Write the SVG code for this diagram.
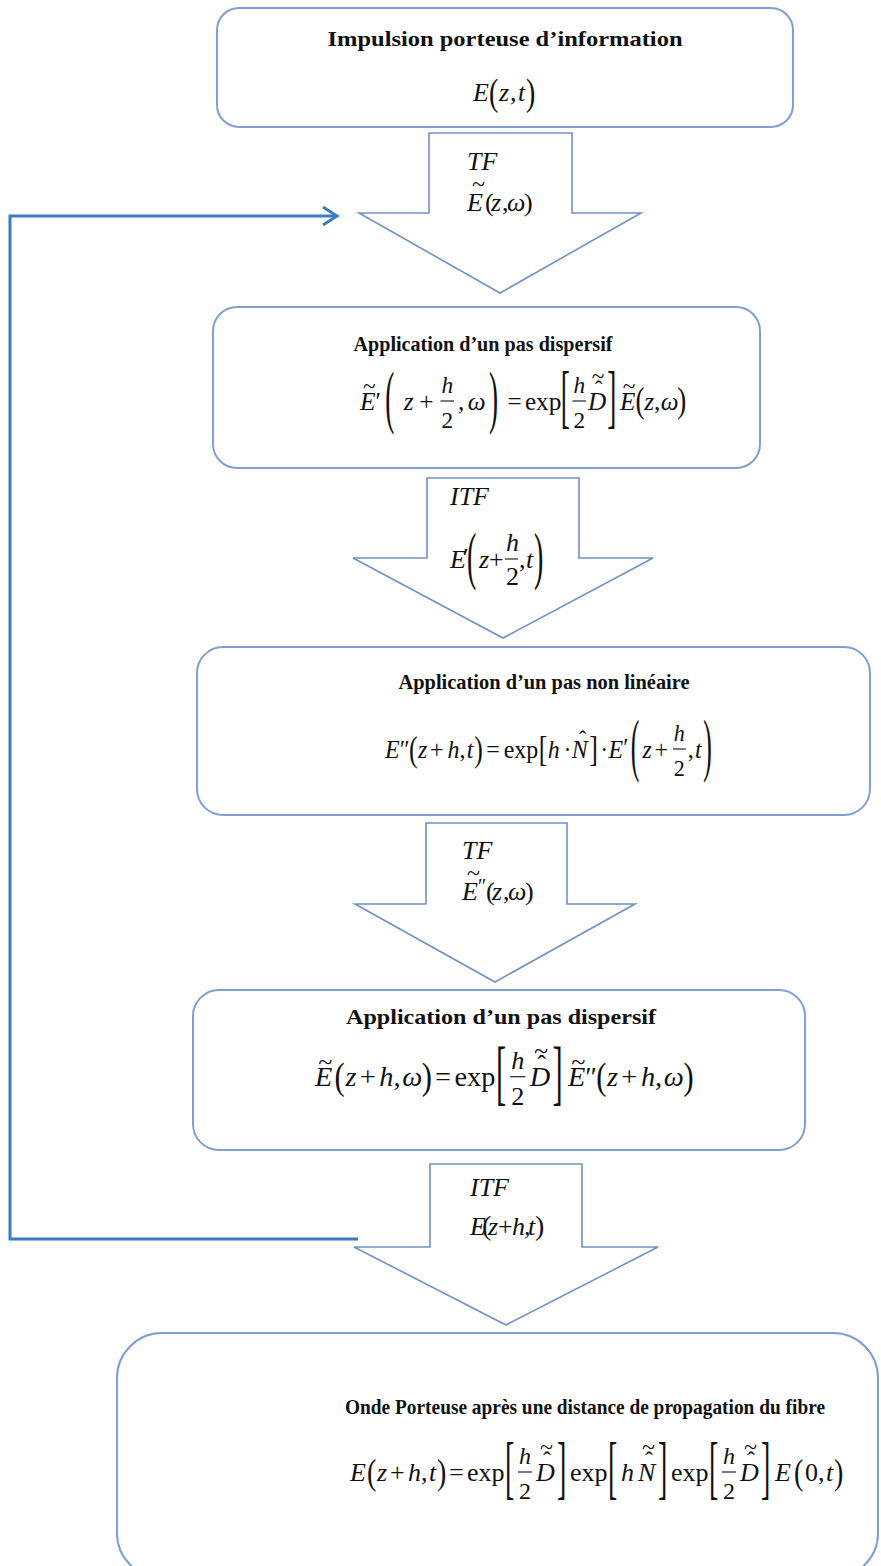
<svg xmlns="http://www.w3.org/2000/svg" width="881" height="1566" viewBox="0 0 881 1566">
<style>
.box{fill:#fff;stroke:#7f9fd3;stroke-width:2}
.arr{fill:#fff;stroke:#7191c6;stroke-width:1.6;stroke-linejoin:miter}
.fb{fill:none;stroke:#3b7cc4;stroke-width:3}
.t{font-family:"Liberation Serif",serif;font-weight:bold;font-size:21px;text-anchor:middle;fill:#111}
.m{font-family:"Liberation Serif",serif;font-size:26px;fill:#111}
.i{font-style:italic}
.f{font-size:24px}
.a{font-size:24px}
.fr{stroke:#111;stroke-width:1.1}
</style>
<defs>
<text id="lp" font-family="Liberation Serif" font-size="28" fill="#111">(</text>
<text id="rp" font-family="Liberation Serif" font-size="28" fill="#111">)</text>
<text id="lb" font-family="Liberation Serif" font-size="28" fill="#111">[</text>
<text id="rb" font-family="Liberation Serif" font-size="28" fill="#111">]</text>
</defs>
<rect width="881" height="1566" fill="#fff"/>

<g id="connectors">
<polyline class="fb" points="358,1239 10,1239 10,216 335,216"/>
<polyline class="fb" points="323,207 337,216 323,225" stroke-width="2.5"/>
</g>

<g id="box1">
<rect class="box" x="217" y="8" width="576" height="119" rx="22"/>
<text class="t" x="505" y="46" font-size="22" textLength="355" lengthAdjust="spacingAndGlyphs">Impulsion porteuse d’information</text>
<text class="m" y="101" font-size="28"><tspan class="i" x="473">E</tspan><tspan x="499" class="i">z</tspan><tspan x="510">,</tspan><tspan x="518" class="i">t</tspan></text>
<use href="#lp" transform="translate(489,105) scale(1,1.35)"/>
<use href="#rp" transform="translate(526,105) scale(1,1.35)"/>
</g>

<g id="arrow1">
<polygon class="arr" points="429,133 572,133 572,213 641,213 500,293 359,213 429,213"/>
<text class="m i" x="467" y="170" font-size="30">TF</text>
<text class="m" y="211" font-size="28"><tspan class="i" x="467">E</tspan><tspan x="472" y="192" font-size="24">~</tspan><tspan x="485" y="211" font-size="26">(</tspan><tspan class="i" x="491">z</tspan><tspan x="502" font-size="26">,</tspan><tspan class="i" x="507">ω</tspan><tspan x="524" font-size="26">)</tspan></text>
</g>

<g id="box2">
<rect class="box" x="213" y="307" width="547" height="161" rx="24"/>
<text class="t" x="483" y="351" textLength="259" lengthAdjust="spacingAndGlyphs">Application d’un pas dispersif</text>
<g transform="translate(360,410) scale(0.97,1)">
<text class="m" font-size="25"><tspan class="i" x="0" y="0">E</tspan><tspan class="a" x="3" y="-16">~</tspan><tspan x="16" y="0">′</tspan><tspan class="i" x="45">z</tspan><tspan x="61">+</tspan><tspan class="i f" x="84" y="-17">h</tspan><tspan class="f" x="84" y="18">2</tspan><tspan x="101" y="0">,</tspan><tspan class="i" x="111">ω</tspan><tspan x="152">=</tspan><tspan x="170">exp</tspan><tspan class="i f" x="220" y="-17">h</tspan><tspan class="f" x="220" y="18">2</tspan><tspan class="i" x="235" y="0">D</tspan><tspan class="a" x="242" y="-13" font-size="20">ˆ</tspan><tspan class="a" x="239" y="-26">~</tspan><tspan class="i" x="268" y="0">E</tspan><tspan class="a" x="271" y="-16">~</tspan><tspan x="293" y="0" class="i">z</tspan><tspan x="303">,</tspan><tspan class="i" x="310">ω</tspan></text>
<line class="fr" x1="83" y1="-9" x2="97" y2="-9"/>
<line class="fr" x1="219" y1="-9" x2="233" y2="-9"/>
<use href="#lp" transform="translate(26,10) scale(1,2.5)"/>
<use href="#rp" transform="translate(133,10) scale(1,2.5)"/>
<use href="#lb" transform="translate(207,10) scale(1,2.5)"/>
<use href="#rb" transform="translate(255,10) scale(1,2.5)"/>
<use href="#lp" transform="translate(284,2) scale(1,1.25)"/>
<use href="#rp" transform="translate(327,2) scale(1,1.25)"/>
</g>
</g>

<g id="arrow2">
<polygon class="arr" points="427,478 579,478 579,558 653,558 503,638 353,558 427,558"/>
<text class="m i" x="450" y="505" font-size="24">ITF</text>
<g transform="translate(450,568)">
<text class="m" font-size="24"><tspan class="i" x="0" y="0">E</tspan><tspan x="13" y="-2">′</tspan><tspan class="i" x="29" y="0">z</tspan><tspan x="39">+</tspan><tspan class="i" x="56" y="-17">h</tspan><tspan x="56" y="17">2</tspan><tspan x="69" y="0">,</tspan><tspan class="i" x="76">t</tspan></text>
<line class="fr" x1="55" y1="-9" x2="68" y2="-9"/>
<use href="#lp" transform="translate(17,9) scale(1,2.3)"/>
<use href="#rp" transform="translate(84,9) scale(1,2.3)"/>
</g>
</g>

<g id="box3">
<rect class="box" x="197" y="647" width="673" height="168" rx="26"/>
<text class="t" x="544" y="689" textLength="291" lengthAdjust="spacingAndGlyphs">Application d’un pas non linéaire</text>
<g transform="translate(385,758) scale(0.92,1)">
<text class="m"><tspan class="i" x="0" y="0">E</tspan><tspan x="16">″</tspan><tspan class="i" x="36">z</tspan><tspan x="49">+</tspan><tspan class="i" x="68">h</tspan><tspan x="81">,</tspan><tspan class="i" x="89">t</tspan><tspan x="110">=</tspan><tspan x="129">exp</tspan><tspan class="i" x="177">h</tspan><tspan x="194">·</tspan><tspan class="i" x="203">N</tspan><tspan class="a" x="211" y="-11" font-size="20">ˆ</tspan><tspan x="234" y="0">·</tspan><tspan class="i" x="243">E</tspan><tspan x="259" y="-2">′</tspan><tspan class="i" x="280" y="0">z</tspan><tspan x="293">+</tspan><tspan class="i f" x="314" y="-17">h</tspan><tspan class="f" x="314" y="18">2</tspan><tspan x="329" y="0">,</tspan><tspan class="i" x="337">t</tspan></text>
<line class="fr" x1="313" y1="-9" x2="327" y2="-9"/>
<use href="#lp" transform="translate(26,3) scale(1,1.3)"/>
<use href="#rp" transform="translate(97,3) scale(1,1.3)"/>
<use href="#lb" transform="translate(167,3) scale(1,1.3)"/>
<use href="#rb" transform="translate(222,3) scale(1,1.3)"/>
<use href="#lp" transform="translate(267,10) scale(1,2.5)"/>
<use href="#rp" transform="translate(346,10) scale(1,2.5)"/>
</g>
</g>

<g id="arrow3">
<polygon class="arr" points="426,823 567,823 567,904 635,904 495,982 355,904 426,904"/>
<text class="m i" x="462" y="859" font-size="30">TF</text>
<text class="m" y="900" font-size="28"><tspan class="i" x="462">E</tspan><tspan x="467" y="881" font-size="24">~</tspan><tspan x="478" y="893" font-size="20">″</tspan><tspan x="486" y="900" font-size="26">(</tspan><tspan class="i" x="492">z</tspan><tspan x="503" font-size="26">,</tspan><tspan class="i" x="508">ω</tspan><tspan x="525" font-size="26">)</tspan></text>
</g>

<g id="box4">
<rect class="box" x="193" y="990" width="612" height="160" rx="26"/>
<text class="t" x="501" y="1024" font-size="22" textLength="310" lengthAdjust="spacingAndGlyphs">Application d’un pas dispersif</text>
<g transform="translate(315,1086) scale(1.09,1.03)">
<text class="m"><tspan class="i" x="0" y="0">E</tspan><tspan class="a" x="3" y="-16">~</tspan><tspan class="i" x="28" y="0">z</tspan><tspan x="41">+</tspan><tspan class="i" x="59">h</tspan><tspan x="72">,</tspan><tspan class="i" x="80">ω</tspan><tspan x="110">=</tspan><tspan x="128">exp</tspan><tspan class="i f" x="180" y="-17">h</tspan><tspan class="f" x="180" y="18">2</tspan><tspan class="i" x="197" y="0">D</tspan><tspan class="a" x="204" y="-13" font-size="20">ˆ</tspan><tspan class="a" x="201" y="-26">~</tspan><tspan class="i" x="232" y="0">E</tspan><tspan class="a" x="235" y="-16">~</tspan><tspan x="248" y="0">″</tspan><tspan class="i" x="268">z</tspan><tspan x="281">+</tspan><tspan class="i" x="299">h</tspan><tspan x="312">,</tspan><tspan class="i" x="320">ω</tspan></text>
<line class="fr" x1="179" y1="-9" x2="193" y2="-9"/>
<use href="#lp" transform="translate(18,3) scale(1,1.3)"/>
<use href="#rp" transform="translate(98,3) scale(1,1.3)"/>
<use href="#lb" transform="translate(166,10) scale(1,2.5)"/>
<use href="#rb" transform="translate(218,10) scale(1,2.5)"/>
<use href="#lp" transform="translate(258,3) scale(1,1.3)"/>
<use href="#rp" transform="translate(338,3) scale(1,1.3)"/>
</g>
</g>

<g id="arrow4">
<polygon class="arr" points="430,1164 582,1164 582,1247 658,1247 506,1325 354,1247 430,1247"/>
<text class="m i" x="470" y="1196" font-size="26">ITF</text>
<text class="m" y="1235" font-size="26"><tspan class="i" x="470">E</tspan><tspan x="482" font-size="28">(</tspan><tspan class="i" x="488">z</tspan><tspan x="498">+</tspan><tspan class="i" x="512">h</tspan><tspan x="524">,</tspan><tspan class="i" x="528">t</tspan><tspan x="535" font-size="28">)</tspan></text>
</g>

<g id="box5">
<rect class="box" x="117" y="1333" width="761" height="245" rx="45"/>
<text class="t" x="585" y="1414" font-size="19" textLength="480" lengthAdjust="spacingAndGlyphs">Onde Porteuse après une distance de propagation du fibre</text>
<g transform="translate(350,1481)">
<text class="m"><tspan class="i" x="0" y="0">E</tspan><tspan class="i" x="27">z</tspan><tspan x="40">+</tspan><tspan class="i" x="58">h</tspan><tspan x="71">,</tspan><tspan class="i" x="79">t</tspan><tspan x="99">=</tspan><tspan x="117">exp</tspan><tspan class="i f" x="169" y="-17">h</tspan><tspan class="f" x="169" y="18">2</tspan><tspan class="i" x="186" y="0">D</tspan><tspan class="a" x="193" y="-13" font-size="20">ˆ</tspan><tspan class="a" x="190" y="-26">~</tspan><tspan x="220" y="0">exp</tspan><tspan class="i" x="271">h</tspan><tspan class="i" x="288">N</tspan><tspan class="a" x="295" y="-13" font-size="20">ˆ</tspan><tspan class="a" x="292" y="-26">~</tspan><tspan x="321" y="0">exp</tspan><tspan class="i f" x="373" y="-17">h</tspan><tspan class="f" x="373" y="18">2</tspan><tspan class="i" x="390" y="0">D</tspan><tspan class="a" x="397" y="-13" font-size="20">ˆ</tspan><tspan class="a" x="394" y="-26">~</tspan><tspan class="i" x="425" y="0">E</tspan><tspan x="455">0</tspan><tspan x="468">,</tspan><tspan class="i" x="476">t</tspan></text>
<line class="fr" x1="168" y1="-9" x2="182" y2="-9"/>
<line class="fr" x1="372" y1="-9" x2="386" y2="-9"/>
<use href="#lp" transform="translate(17,3) scale(1,1.3)"/>
<use href="#rp" transform="translate(87,3) scale(1,1.3)"/>
<use href="#lb" transform="translate(155,10) scale(1,2.5)"/>
<use href="#rb" transform="translate(207,10) scale(1,2.5)"/>
<use href="#lb" transform="translate(258,10) scale(1,2.5)"/>
<use href="#rb" transform="translate(308,10) scale(1,2.5)"/>
<use href="#lb" transform="translate(359,10) scale(1,2.5)"/>
<use href="#rb" transform="translate(411,10) scale(1,2.5)"/>
<use href="#lp" transform="translate(444,3) scale(1,1.3)"/>
<use href="#rp" transform="translate(484,3) scale(1,1.3)"/>
</g>
</g>
</svg>
